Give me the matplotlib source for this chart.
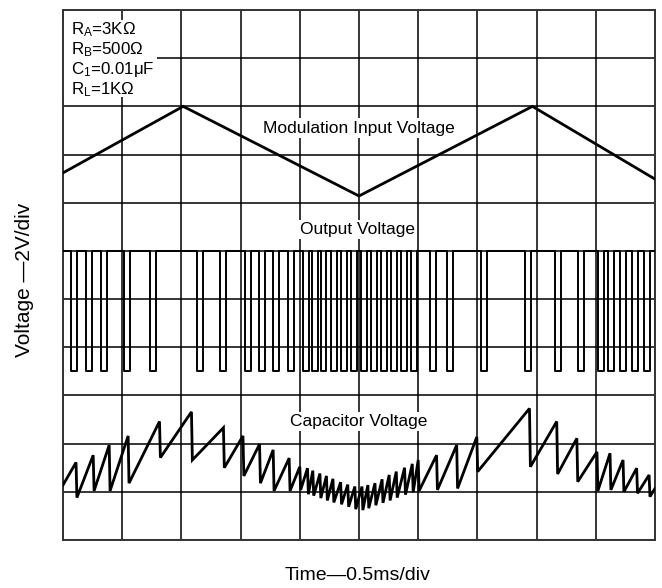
import matplotlib
matplotlib.use("Agg")
import matplotlib.pyplot as plt
import numpy as np

plt.rcParams['font.family'] = ['Liberation Sans', 'DejaVu Sans']
plt.rcParams['mathtext.fontset'] = 'custom'
plt.rcParams['mathtext.rm'] = 'Liberation Sans'
plt.rcParams['mathtext.it'] = 'Liberation Sans'

# ---- data (time in divisions, voltage in divisions) ----
mod_t = [0.0, 2.03, 5.0, 7.93, 10.0]
mod_v = [7.62, 9.0, 7.14, 9.0, 7.49]

out_high = 6.0
out_low = 3.5
pulse_width = 0.10
pulse_start = [0.135, 0.39, 0.64, 1.03, 1.47, 2.26, 2.65, 3.07, 3.31, 3.55,
               3.80, 4.05, 4.20, 4.35, 4.53, 4.70, 4.86, 5.03, 5.20, 5.37,
               5.54, 5.71, 5.88, 6.20, 6.48, 7.06, 7.80, 8.31, 8.70, 9.04,
               9.21, 9.41, 9.61, 9.81]

cap_start = (0.0, 1.14)
cap_end = (10.0, 1.07)
cap_peak_t = [0.22, 0.51, 0.78, 1.10, 1.63, 2.17, 2.71, 3.04, 3.32, 3.55,
              3.82, 4.00, 4.13, 4.22, 4.34, 4.45, 4.56, 4.69, 4.81, 4.93,
              5.05, 5.15, 5.27, 5.39, 5.51, 5.63, 5.77, 5.90, 6.00, 6.31,
              6.65, 6.99, 7.88, 8.34, 8.68, 9.02, 9.24, 9.46, 9.69, 9.90]
cap_peak_v = [1.61, 1.76, 1.97, 2.16, 2.46, 2.66, 2.33, 2.16, 1.99, 1.87,
              1.70, 1.52, 1.49, 1.44, 1.38, 1.33, 1.27, 1.20, 1.15, 1.11,
              1.11, 1.14, 1.18, 1.26, 1.35, 1.42, 1.50, 1.58, 1.66, 1.76,
              1.97, 2.14, 2.73, 2.46, 2.11, 1.83, 1.80, 1.66, 1.49, 1.35]
cap_trough_v = [0.88, 1.02, 1.02, 1.18, 1.71, 1.66, 1.50, 1.33, 1.18, 1.02,
                1.02, 1.04, 0.95, 0.92, 0.87, 0.82, 0.78, 0.74, 0.69, 0.64,
                0.62, 0.66, 0.72, 0.77, 0.82, 0.88, 0.94, 0.99, 1.02, 1.04,
                1.07, 1.42, 1.52, 1.37, 1.21, 1.02, 1.04, 1.00, 0.97, 0.90]

x_divs = 10
y_divs = 11

labels = {
    'mod': ("Modulation Input Voltage", 5.0, 8.55),
    'out': ("Output Voltage", 4.97, 6.45),
    'cap': ("Capacitor Voltage", 4.99, 2.46),
}
params = [r"R$_{\mathrm{A}}$=3KΩ", r"R$_{\mathrm{B}}$=500Ω",
          r"C$_{\mathrm{1}}$=0.01μF", r"R$_{\mathrm{L}}$=1KΩ"]

# ---- build traces ----
out_x = [0.0]
out_y = [out_high]
for s in pulse_start:
    out_x += [s, s, s + pulse_width, s + pulse_width]
    out_y += [out_high, out_low, out_low, out_high]
out_x.append(float(x_divs))
out_y.append(out_high)

drop = 0.015
cap_x = [cap_start[0]]
cap_y = [cap_start[1]]
for t, p, tr in zip(cap_peak_t, cap_peak_v, cap_trough_v):
    cap_x += [t, t + drop]
    cap_y += [p, tr]
cap_x.append(cap_end[0])
cap_y.append(cap_end[1])

# ---- figure ----
fig = plt.figure(figsize=(6.62, 5.88), dpi=100)
ax = fig.add_axes([63 / 662, 48 / 588, 592 / 662, 530 / 588])
ax.set_xlim(0, x_divs)
ax.set_ylim(0, y_divs)
ax.set_xticks(np.arange(0, x_divs + 1))
ax.set_yticks(np.arange(0, y_divs + 1))
ax.tick_params(length=0, labelbottom=False, labelleft=False)
ax.grid(True, color='black', linewidth=1.1, zorder=1)
ax.set_axisbelow(True)
for sp in ax.spines.values():
    sp.set_color('#333333')
    sp.set_linewidth(1.4)

ax.plot(mod_t, mod_v, color='black', lw=2.0, zorder=3, solid_joinstyle='miter')
ax.plot(out_x, out_y, color='black', lw=1.4, zorder=3)
ax.plot(cap_x, cap_y, color='black', lw=2.0, zorder=3, solid_joinstyle='miter')

for key, (txt, x, y) in labels.items():
    ax.text(x, y, txt, ha='center', va='center', fontsize=12.5, zorder=4,
            bbox=dict(facecolor='white', edgecolor='none', pad=1.5))

# parameter block
ax.add_patch(plt.Rectangle((0.0, 9.19), 1.59, 1.6, facecolor='white',
                           edgecolor='none', zorder=2))
for i, p in enumerate(params):
    ax.text(0.13, 10.59 - i * 0.415, p, ha='left', va='center', fontsize=12.2,
            zorder=4)

fig.text(25 / 662, 1 - 280 / 588, "Voltage \u20142V/div", rotation=90,
         ha='center', va='center', fontsize=15)
fig.text(358 / 662, 1 - 575 / 588, "Time\u20140.5ms/div", ha='center',
         va='center', fontsize=14)

fig.savefig("out.png", dpi=100)
